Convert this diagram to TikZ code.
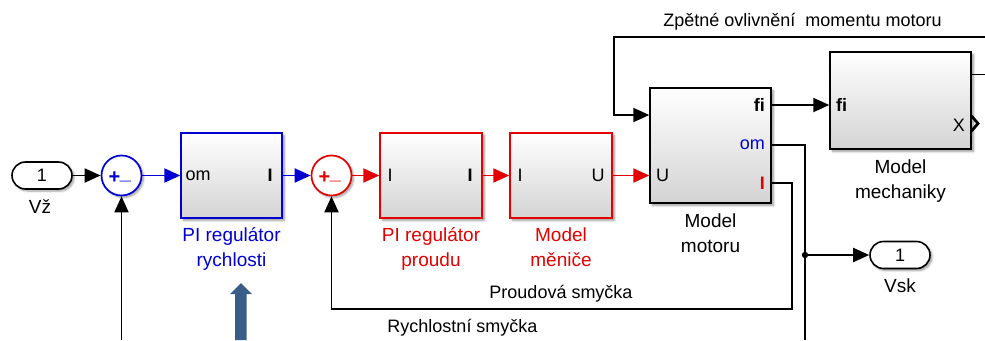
\documentclass[tikz,border=0pt]{standalone}
\usepackage{fontspec}
\setmainfont{Liberation Sans}
\usetikzlibrary{arrows.meta,shapes.misc,shadows.blur}
\definecolor{sblue}{RGB}{0,0,210}
\definecolor{sred}{RGB}{228,0,0}
\definecolor{bigarrow}{RGB}{58,92,136}
\tikzset{
  blk/.style={draw, line width=1.4pt, top color=white, bottom color=black!17,
    inner sep=0pt, blur shadow={shadow xshift=2.5pt, shadow yshift=-2.5pt, shadow blur steps=6, shadow opacity=40}},
  sumblk/.style={draw, circle, line width=1.7pt, fill=white, minimum size=40pt, inner sep=0pt,
    blur shadow={shadow xshift=2pt, shadow yshift=-2pt, shadow blur steps=6, shadow opacity=40}},
  portblk/.style={draw, rounded rectangle, line width=1.6pt, fill=white, minimum width=60pt, minimum height=27pt, inner sep=0pt,
    blur shadow={shadow xshift=2pt, shadow yshift=-2pt, shadow blur steps=6, shadow opacity=40}},
  conn/.style={line width=1.9pt, -{Triangle[length=16pt,width=14pt]}},
  wire/.style={line width=1.9pt},
  plbl/.style={inner sep=0pt},
  txt/.style={inner sep=0pt, align=center},
  blbl/.style={inner sep=0pt, align=center, font=\fontsize{19}{25}\selectfont},
  sgn/.style={inner sep=0pt, font=\fontsize{20}{24}\selectfont\bfseries},
}
\begin{document}
\begin{tikzpicture}[x=1pt,y=-1pt,font=\fontsize{18}{25}\selectfont]
\useasboundingbox (0,0) rectangle (985,340);

% inport and sums
\node[portblk] (in1) at (42,175.5) {1};
\node[blbl, anchor=base] (vz) at (40,213) {Vž};
\node[sumblk, draw=sblue] (sum1) at (121.5,175.5) {};
\node[sgn, sblue] at ([xshift=-7pt,yshift=-2pt]sum1.center) {+};
\node[sgn, sblue] at ([xshift=4pt,yshift=-5pt]sum1.center) {\_};

% PI regulator rychlosti
\node[blk, draw=sblue, minimum width=101pt, minimum height=85pt] (pir) at (231.5,175.5) {};
\node[plbl, anchor=west] (pir-in) at ([xshift=5pt]pir.west) {om};
\node[plbl, anchor=east] (pir-out) at ([xshift=-10pt]pir.east) {\textbf{I}};
\node[blbl, sblue, anchor=base] (pirl) at (231.5,266) {PI regulátor\\rychlosti};

\node[sumblk, draw=sred] (sum2) at (331.5,175.5) {};
\node[sgn, sred] at ([xshift=-7pt,yshift=-2pt]sum2.center) {+};
\node[sgn, sred] at ([xshift=4pt,yshift=-5pt]sum2.center) {\_};

% PI regulator proudu
\node[blk, draw=sred, minimum width=102pt, minimum height=85pt] (pip) at (431,175.5) {};
\node[plbl, anchor=west] (pip-in) at ([xshift=8pt]pip.west) {I};
\node[plbl, anchor=east] (pip-out) at ([xshift=-10pt]pip.east) {\textbf{I}};
\node[blbl, sred, anchor=base] (pipl) at (431,266) {PI regulátor\\proudu};

% Model menice
\node[blk, draw=sred, minimum width=102pt, minimum height=85pt] (men) at (561,175.5) {};
\node[plbl, anchor=west] (men-in) at ([xshift=8pt]men.west) {I};
\node[plbl, anchor=east] (men-out) at ([xshift=-8pt]men.east) {U};
\node[blbl, sred, anchor=base] (menl) at (561,266) {Model\\měniče};

% Model motoru
\node[blk, minimum width=121pt, minimum height=115pt] (mot) at (710.5,145.5) {};
\node[plbl, anchor=west] (mot-u) at (656,175) {U};
\node[plbl, anchor=east] (mot-fi) at (765,105) {\textbf{fi}};
\node[plbl, anchor=east, text=sblue] (mot-om) at (765,145) {om};
\node[plbl, anchor=east, text=sred] (mot-i) at (765,183) {\textbf{I}};
\node[blbl, anchor=base] (motl) at (710.5,252) {Model\\motoru};

% Model mechaniky
\node[blk, minimum width=141pt, minimum height=97pt] (mech) at (900.5,100.5) {};
\node[plbl, anchor=west] (mech-fi) at (836,105) {\textbf{fi}};
\node[plbl, anchor=east] (mech-x) at (965,125) {X};
\node[blbl, anchor=base] (mechl) at (900.5,198) {Model\\mechaniky};
\draw[line width=2.8pt] (971.5,116) -- (978,123.5) -- (971.5,131);

% outport
\node[portblk] (out1) at (900,255) {1};
\node[blbl, anchor=base] (vsk) at (900,292) {Vsk};

% texts
\node[txt, anchor=base] (zp) at (802.5,26) {Zpětné ovlivnění~ momentu motoru};
\node[txt, anchor=base] (ps) at (561,298) {Proudová smyčka};
\node[txt, anchor=base] (rs) at (462.5,332) {Rychlostní smyčka};

% coordinates
\coordinate (topR) at (985,37);
\coordinate (topL) at (614,37);
\coordinate (mechR) at (985,74.5);
\coordinate (omc) at (805,145);
\coordinate (omb) at (805,340);
\coordinate (junc) at (805,255);
\coordinate (ic) at (792,183);
\coordinate (ib) at (792,309);
\coordinate (s2b) at (331.5,309);
\coordinate (s1b) at (121.5,340);

% connectors
\draw[conn] (in1.east) -- (sum1.west);
\draw[conn, sblue] (sum1.east) -- (pir.west |- sum1.east);
\draw[conn, sblue] (pir.east) -- (sum2.west);
\draw[conn, sred] (sum2.east) -- (pip.west);
\draw[conn, sred] (pip.east) -- (men.west);
\draw[conn, sred] (men.east) -- (mot.west |- men.east);
\draw[conn] (mot.east |- mot-fi) -- (mech.west |- mot-fi);
\draw[conn] (topR) -- (topL) |- (mot.west |- 0,115);
\draw[wire] (mech.east |- mechR) -- (mechR);
\draw[wire] (mot.east |- omc) -- (omc) -- (omb);
\draw[conn] (junc) -- (out1.west);
\fill (junc) circle (3.2pt);
\draw[conn] (mot.east |- ic) -- (ic) -- (ib) -- (s2b) -- (sum2.south);
\draw[conn] (s1b) -- (sum1.south);

% big arrow
\fill[bigarrow] (235,340) -- (235,294) -- (230,294) -- (241,283) -- (252,294) -- (246.5,294) -- (246.5,340) -- cycle;
\end{tikzpicture}
\end{document}
